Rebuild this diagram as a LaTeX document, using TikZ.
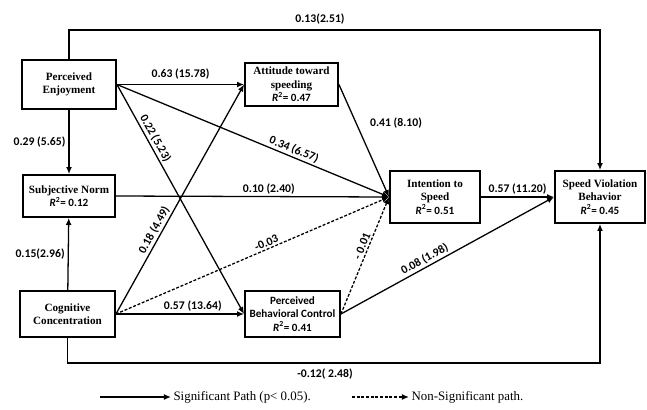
\documentclass[tikz,border=0pt]{standalone}
\usepackage{fontspec}
\setmainfont{Liberation Serif}
\newfontfamily\calib{Carlito}
\usetikzlibrary{arrows.meta}
\newcommand{\rsq}[1]{{\calib\bfseries\itshape R}\textsuperscript{\calib\bfseries 2}{\calib\bfseries= #1}}

\begin{document}
\begin{tikzpicture}[
  x=0.3mm,y=-0.3mm,
  >={Latex[length=6pt,width=5pt]},
  box/.style={draw,line width=1.6pt,align=center,inner sep=1pt,
              font=\fontsize{9.5}{11.5}\selectfont\bfseries},
  sig/.style={->,line width=1.1pt},
  nsig/.style={sig,dash pattern=on 2.5pt off 1.5pt},
  lab/.style={font=\fontsize{10}{12}\selectfont\calib\bfseries,inner sep=1.5pt},
  legend/.style={font=\fontsize{11}{13}\selectfont,anchor=west,inner sep=2pt}
]
\useasboundingbox (0,0) rectangle (647,409);

\node[box,minimum width=2.82cm,minimum height=1.47cm] (pe) at (69,84.5) {Perceived\\Enjoyment};
\node[box,minimum width=2.79cm,minimum height=1.29cm] (att) at (291.5,84.5) {Attitude toward\\speeding\\\rsq{0.47}};
\node[box,minimum width=2.76cm,minimum height=1.26cm] (sn) at (69,196) {Subjective Norm\\\rsq{0.12}};
\node[box,minimum width=2.85cm,minimum height=1.38cm] (cc) at (67.5,314) {Cognitive\\Concentration};
\node[box,minimum width=2.85cm,minimum height=1.38cm,font=\fontsize{9.5}{11.5}\selectfont\calib\bfseries] (pbc) at (292.5,314) {Perceived\\Behavioral Control\\\rsq{0.41}};
\node[box,minimum width=2.7cm,minimum height=1.56cm] (is) at (435,197) {Intention to\\Speed\\\rsq{0.51}};
\node[box,minimum width=2.7cm,minimum height=1.56cm] (svb) at (600,197) {Speed Violation\\Behavior\\\rsq{0.45}};

\coordinate (topbend) at (320,30);
\coordinate (botbend) at (325,363);

\draw[sig] (pe.north) |- (topbend) node[lab,above=3pt] {0.13(2.51)} -| (svb.north);
\draw[sig] (cc.south) |- (botbend) node[lab,below=3pt] {-0.12( 2.48)} -| (svb.south);

\draw[sig] (pe) -- node[lab,left=1pt] {0.29 (5.65)} (sn);
\draw[sig] (cc) -- node[lab,left=1pt] {0.15(2.96)} (sn);

\draw[sig] (pe.east) -- node[lab,above=2pt] {0.63 (15.78)} (att.west);
\draw[sig] (sn.east) -- node[lab,above,pos=0.56] {0.10 (2.40)} (is.west);
\draw[sig] (cc.east) -- node[lab,above,pos=0.6] {0.57 (13.64)} (pbc.west);
\draw[sig] (is.east) -- node[lab,above] {0.57 (11.20)} (svb.west);

\draw[sig] (pe.east) -- node[lab,sloped,above,pos=0.25] {0.22 (5.23)} (pbc.west);
\draw[sig] (pe.east) -- node[lab,sloped,above,pos=0.64] {0.34 (6.57)} (is.west);
\draw[sig] (cc.east) -- node[lab,sloped,above,pos=0.35] {0.18 (4.49)} (att.west);
\draw[nsig] (cc.east) -- node[lab,sloped,above,pos=0.56] {-0.03} (is.west);
\draw[sig] (att.east) -- node[lab,right=10pt,pos=0.34] {0.41 (8.10)} (is.west);
\draw[nsig] (pbc.east) -- node[lab,sloped,above,pos=0.56] {- 0.01} (is.west);
\draw[sig] (pbc.east) -- node[lab,sloped,above,pos=0.41] {0.08 (1.98)} (svb.west);

% legend
\coordinate (sigfrom) at (100,397);
\node[legend] (sigtxt) at (171,397) {Significant Path (p< 0.05).};
\draw[sig] (sigfrom) -- (sigtxt.west);
\coordinate (nsigfrom) at (352,397);
\node[legend] (nsigtxt) at (409,397) {Non-Significant path.};
\draw[nsig] (nsigfrom) -- (nsigtxt.west);

\end{tikzpicture}
\end{document}
